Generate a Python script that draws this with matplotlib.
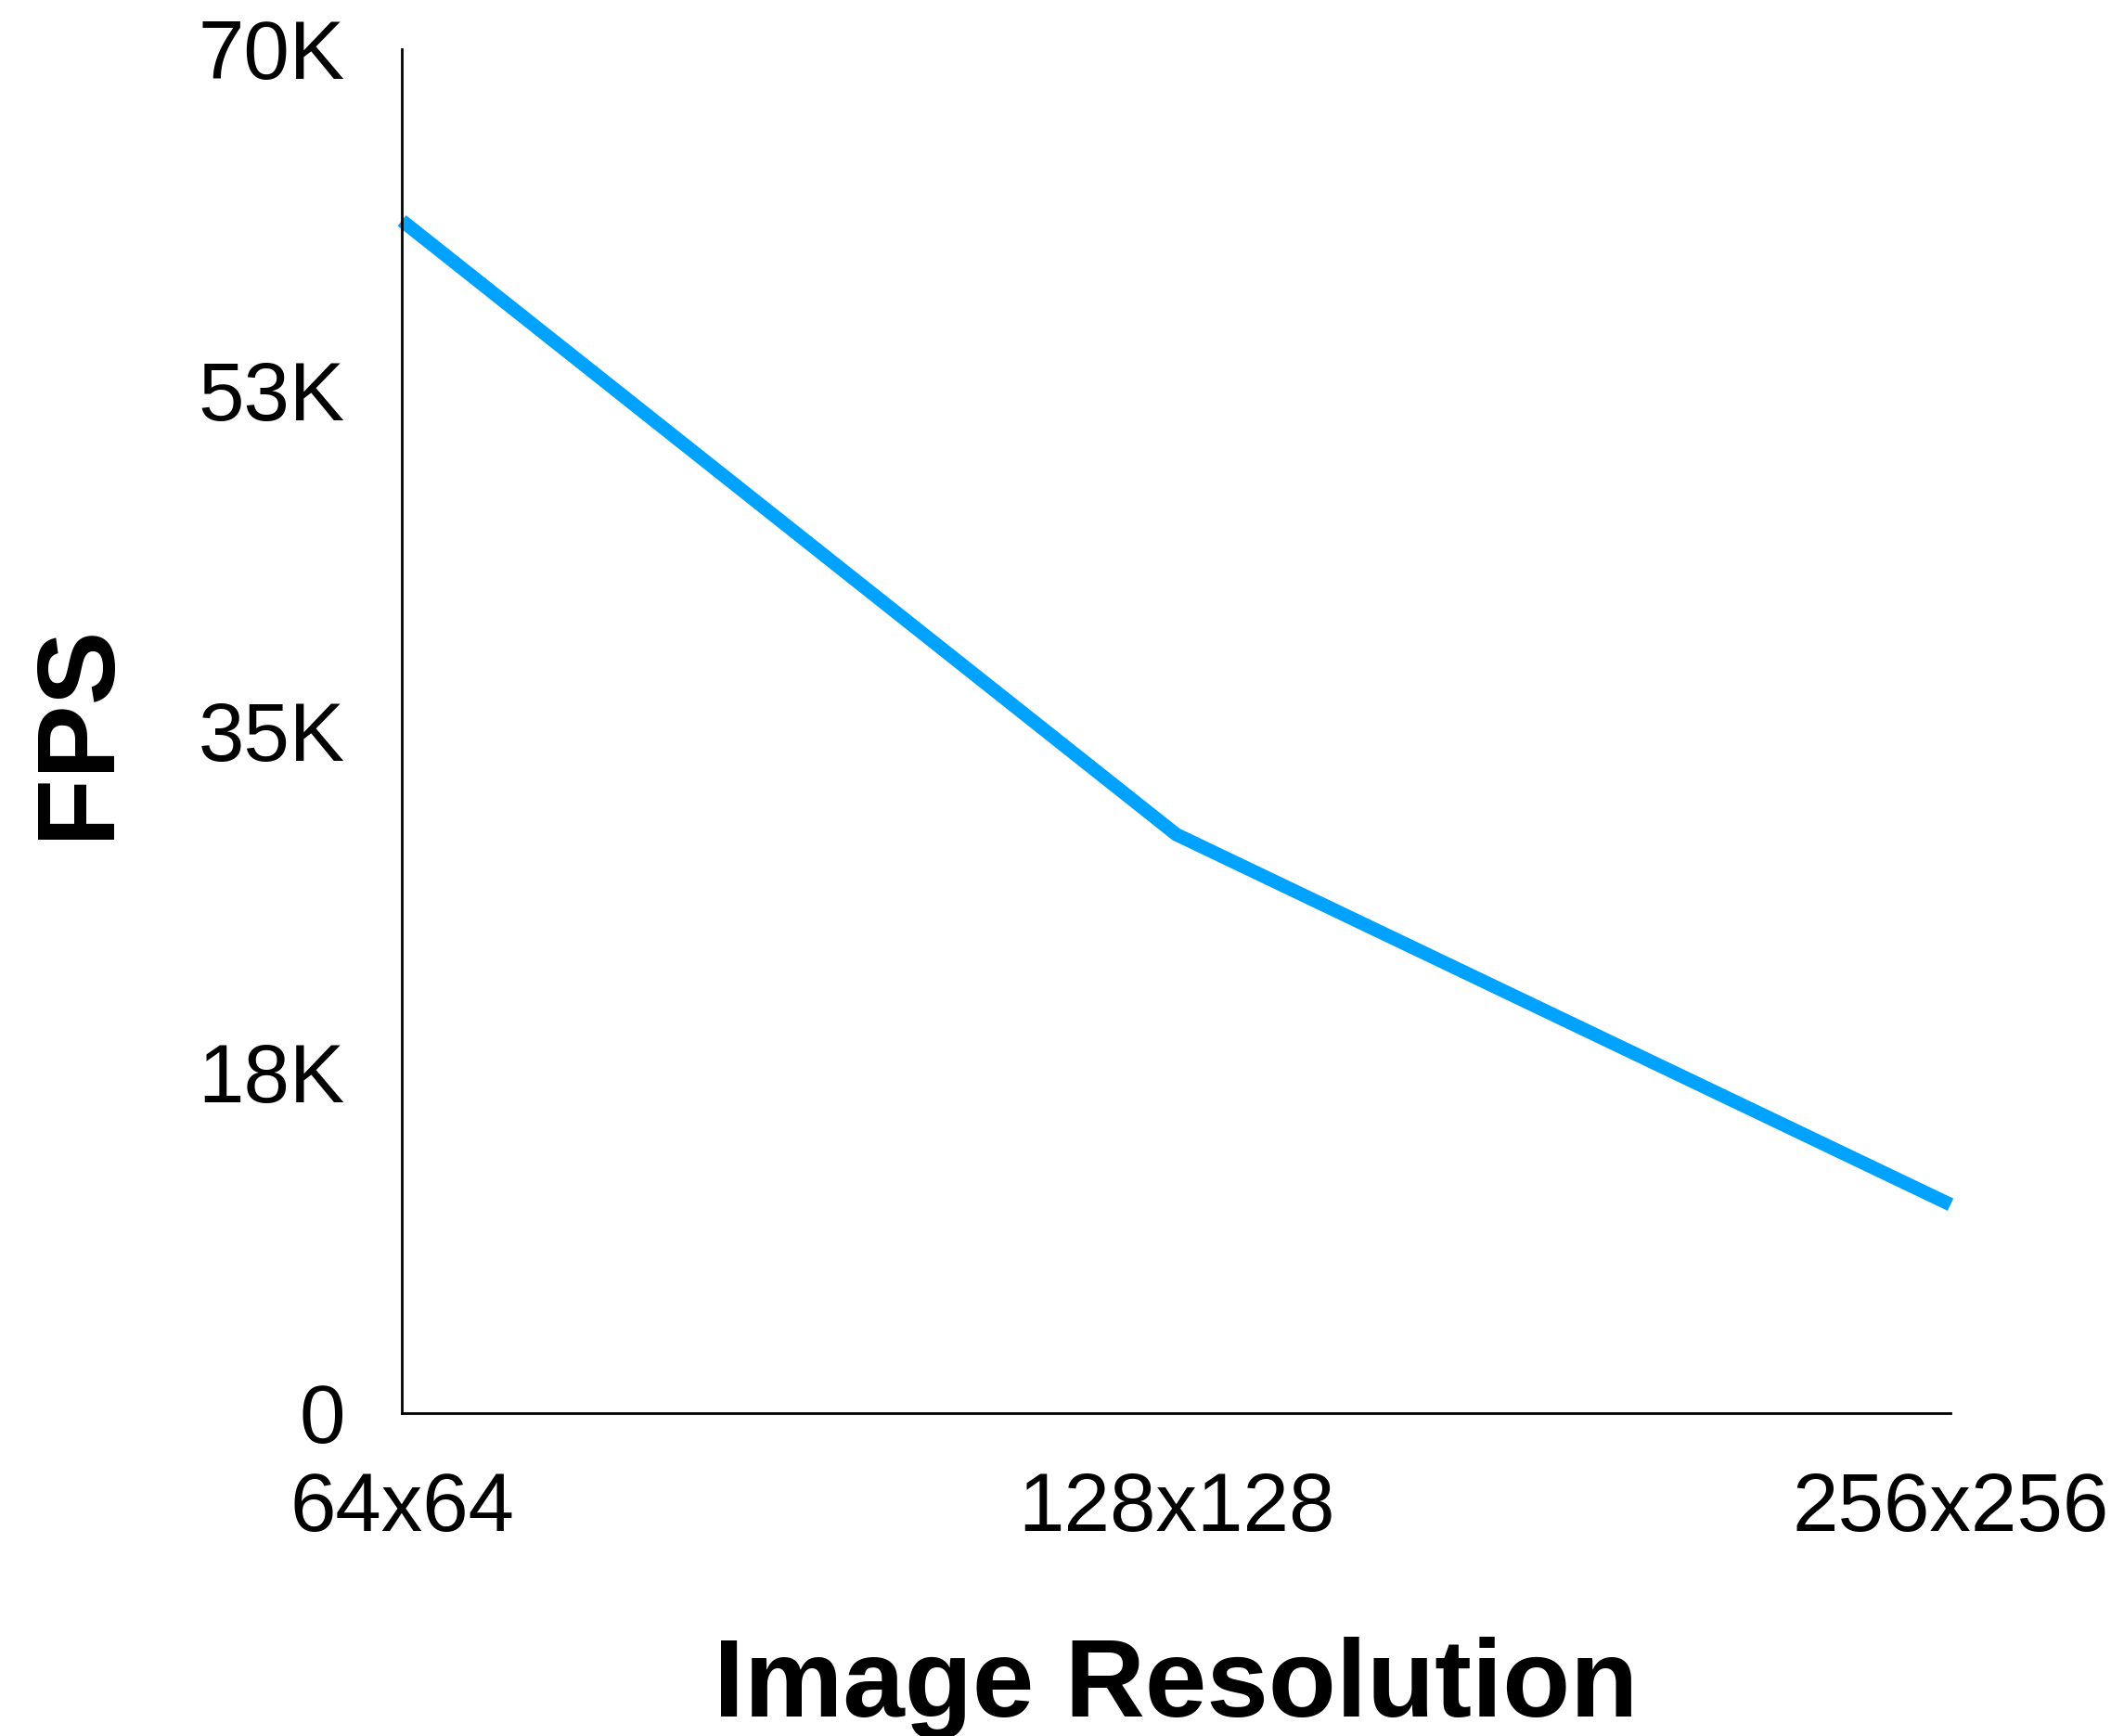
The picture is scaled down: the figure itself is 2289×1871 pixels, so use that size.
import matplotlib
matplotlib.use("Agg")
import matplotlib.pyplot as plt

# FPS measured at each image resolution
resolutions = ["64x64", "128x128", "256x256"]
fps = [61200, 29700, 10700]

y_ticks = [0, 17500, 35000, 52500, 70000]
y_tick_labels = ["0", "18K", "35K", "53K", "70K"]

plt.rcParams["font.family"] = ["Liberation Sans", "DejaVu Sans"]

fig = plt.figure(figsize=(22.89, 18.71), dpi=100)
ax = fig.add_axes([0.1892, 0.186, 0.7291, 0.7857])

x = list(range(len(resolutions)))
ax.plot(x, fps, color="#00A2FF", linewidth=10.5, solid_capstyle="butt",
        solid_joinstyle="miter", clip_on=False)

ax.set_xlim(0, len(resolutions) - 1)
ax.set_ylim(0, 70000)
ax.set_xticks(x)
ax.set_xticklabels(resolutions)
ax.set_yticks(y_ticks)
ax.set_yticklabels(y_tick_labels)

ax.tick_params(axis="both", length=0, labelsize=64)
ax.tick_params(axis="x", pad=45)
ax.tick_params(axis="y", pad=44)

for side in ("top", "right"):
    ax.spines[side].set_visible(False)
for side in ("left", "bottom"):
    ax.spines[side].set_linewidth(2)
    ax.spines[side].set_color("black")

ax.set_xlabel("Image Resolution", fontsize=86, fontweight="bold", labelpad=68)
ax.set_ylabel("FPS", fontsize=86, fontweight="bold", labelpad=52)

fig.savefig("out.png", dpi=100, facecolor="white")
